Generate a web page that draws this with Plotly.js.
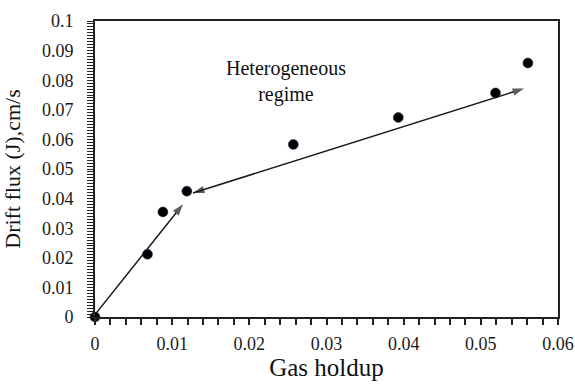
<!DOCTYPE html>
<html>
<head>
<meta charset="utf-8">
<script src="https://cdn.plot.ly/plotly-3.0.1.min.js"></script>
<style>html,body{margin:0;padding:0;background:#fff;}#chart{width:575px;height:385px;}</style>
</head>
<body>
<div id="chart"></div>
<script>
// Data
var gasHoldup = [0, 0.0068, 0.0088, 0.0119, 0.0257, 0.0393, 0.0519, 0.0561];
var driftFlux = [0, 0.0212, 0.0355, 0.0425, 0.0583, 0.0674, 0.0757, 0.0858];

// Tick labels
var xTickLabels = ["0", "0.01", "0.02", "0.03", "0.04", "0.05", "0.06"];
var yTickLabels = ["0", "0.01", "0.02", "0.03", "0.04", "0.05", "0.06", "0.07", "0.08", "0.09", "0.1"];

// Double-headed arrows (data coords): start and end
var arrow1X = [-0.0018, 0.0114];
var arrow1Y = [-0.0051, 0.0381];
var arrow2X = [0.0127, 0.0556];
var arrow2Y = [0.0419, 0.0772];

var annoLines = ["Heterogeneous", "regime"];
var annoPos = [0.0247, 0.0797];

var serif = "'Liberation Serif', 'Times New Roman', Times, serif";
var ink = '#1a1a1a';

// tick positions: major labels plus unlabeled minor ticks
function buildTicks(labels, sub) {
  var vals = [], text = [];
  for (var i = 0; i < labels.length; i++) {
    var major = parseFloat(labels[i]);
    vals.push(major); text.push(labels[i]);
    if (i < labels.length - 1) {
      var next = parseFloat(labels[i + 1]);
      for (var k = 1; k < sub; k++) {
        vals.push(major + (next - major) * k / sub);
        text.push('');
      }
    }
  }
  return {vals: vals, text: text};
}
var xT = buildTicks(xTickLabels, 5);
var yT = buildTicks(yTickLabels, 10);

function arrowTraces(xs, ys) {
  var head = {symbol: 'arrow', size: [0, 12], angleref: 'previous', color: ink, line: {width: 0}};
  return [
    {x: xs, y: ys, type: 'scatter', mode: 'lines+markers',
     line: {color: ink, width: 1.5}, marker: head, cliponaxis: false, hoverinfo: 'skip'},
    {x: xs.slice().reverse(), y: ys.slice().reverse(), type: 'scatter', mode: 'markers',
     marker: head, cliponaxis: false, hoverinfo: 'skip'}
  ];
}

var points = {
  x: gasHoldup, y: driftFlux, type: 'scatter', mode: 'markers',
  marker: {color: '#000', size: 10, line: {color: '#1f3b66', width: 0.5}},
  cliponaxis: false, hoverinfo: 'skip'
};

var traces = arrowTraces(arrow1X, arrow1Y).concat(arrowTraces(arrow2X, arrow2Y)).concat([points]);

var layout = {
  width: 575, height: 385,
  margin: {l: 95, r: 17, t: 21, b: 68},
  paper_bgcolor: '#fff', plot_bgcolor: '#fff',
  showlegend: false,
  font: {family: serif, color: '#111'},
  xaxis: {
    range: [0, 0.06], tickmode: 'array', tickvals: xT.vals, ticktext: xT.text,
    showgrid: false, zeroline: false,
    showline: true, linecolor: '#222', linewidth: 2, mirror: true,
    ticks: 'outside', ticklen: 6, tickwidth: 1.5, tickcolor: '#222',
    tickfont: {family: serif, size: 18, color: ink},
    ticklabelstandoff: 3,
    title: {text: 'Gas holdup', font: {family: serif, size: 25, color: '#111'}, standoff: 6}
  },
  yaxis: {
    range: [0, 0.1], tickmode: 'array', tickvals: yT.vals, ticktext: yT.text,
    showgrid: false, zeroline: false,
    showline: true, linecolor: '#222', linewidth: 2, mirror: true,
    ticks: 'outside', ticklen: 6, tickwidth: 1.2, tickcolor: '#222',
    tickfont: {family: serif, size: 18, color: ink},
    ticklabelstandoff: 10,
    title: {text: 'Drift flux (J),cm/s', font: {family: serif, size: 22, color: '#111'}, standoff: 16}
  },
  annotations: [
    {x: annoPos[0], y: annoPos[1], xref: 'x', yref: 'y', showarrow: false,
     text: annoLines.join('<br>'), align: 'center',
     font: {family: serif, size: 20, color: '#111'}}
  ]
};

Plotly.newPlot('chart', traces, layout, {displayModeBar: false});
</script>
</body>
</html>
